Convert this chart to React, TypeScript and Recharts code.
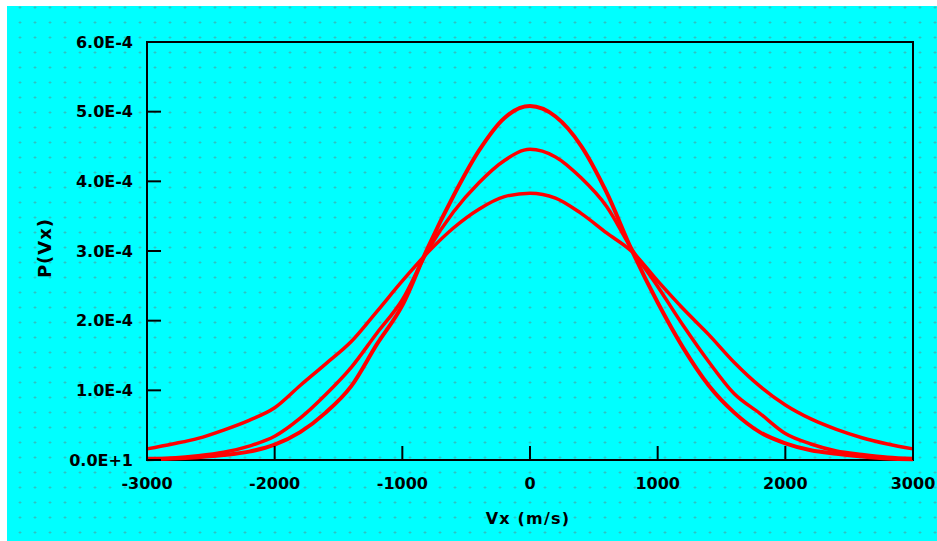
import React from 'react';
import { LineChart, Line, XAxis, YAxis, ReferenceArea, Label } from 'recharts';

// velocity bins (m/s)
const vx = [
  -3000, -2800, -2600, -2400, -2200, -2000, -1800, -1600, -1400, -1200, -1000,
  -800, -600, -400, -200, 0, 200, 400, 600, 800, 1000,
  1200, 1400, 1600, 1800, 2000, 2200, 2400, 2600, 2800, 3000,
];

// P(Vx) for the three runs
const pNarrow = [
  1e-6, 2e-6, 4e-6, 7e-6, 1.2e-5, 2.2e-5, 4.0e-5, 6.8e-5, 1.06e-4, 1.66e-4, 2.22e-4,
  3.05e-4, 3.79e-4, 4.44e-4, 4.91e-4, 5.08e-4, 4.93e-4, 4.51e-4, 3.84e-4, 3.0e-4, 2.26e-4,
  1.61e-4, 1.07e-4, 6.8e-5, 4.0e-5, 2.4e-5, 1.4e-5, 9e-6, 5e-6, 2e-6, 1e-6,
];
const pMid = [
  2e-6, 3e-6, 6e-6, 1.1e-5, 2.0e-5, 3.4e-5, 6.0e-5, 9.4e-5, 1.33e-4, 1.82e-4, 2.30e-4,
  3.01e-4, 3.56e-4, 3.98e-4, 4.30e-4, 4.46e-4, 4.35e-4, 4.05e-4, 3.64e-4, 3.02e-4, 2.49e-4,
  1.93e-4, 1.41e-4, 9.5e-5, 6.7e-5, 3.8e-5, 2.3e-5, 1.3e-5, 8e-6, 4e-6, 2e-6,
];
const pWide = [
  1.6e-5, 2.3e-5, 3.1e-5, 4.3e-5, 5.7e-5, 7.5e-5, 1.07e-4, 1.38e-4, 1.70e-4, 2.13e-4, 2.57e-4,
  2.98e-4, 3.33e-4, 3.60e-4, 3.78e-4, 3.83e-4, 3.76e-4, 3.54e-4, 3.26e-4, 2.99e-4, 2.57e-4,
  2.17e-4, 1.80e-4, 1.40e-4, 1.06e-4, 7.9e-5, 5.9e-5, 4.4e-5, 3.2e-5, 2.3e-5, 1.6e-5,
];

const xTicks = [-3000, -2000, -1000, 0, 1000, 2000, 3000];
const yTicks = [0, 1e-4, 2e-4, 3e-4, 4e-4, 5e-4, 6e-4];
const yTickLabels = ['0.0E+1', '1.0E-4', '2.0E-4', '3.0E-4', '4.0E-4', '5.0E-4', '6.0E-4'];

const data = vx.map((v, i) => ({ v, a: pNarrow[i], b: pMid[i], c: pWide[i] }));

const font = '"DejaVu Sans", sans-serif';

const YTick = (props: any) => {
  const { x, y, index } = props;
  return (
    <g>
      <line x1={x} y1={y} x2={x + 14} y2={y} stroke="#000" strokeWidth={2} />
      <text x={x - 14} y={y} textAnchor="end" dominantBaseline="central"
        fontFamily={font} fontWeight="bold" fontSize={16} fill="#000">
        {yTickLabels[index]}
      </text>
    </g>
  );
};

const XTick = (props: any) => {
  const { x, y, payload } = props;
  return (
    <g>
      <line x1={x} y1={y} x2={x} y2={y - 14} stroke="#000" strokeWidth={2} />
      <text x={x} y={y + 23} textAnchor="middle" dominantBaseline="central"
        fontFamily={font} fontWeight="bold" fontSize={16} fill="#000">
        {payload.value}
      </text>
    </g>
  );
};

export default function App() {
  return (
    <div
      style={{
        position: 'absolute',
        left: 7,
        top: 6,
        width: 930,
        height: 535,
        backgroundColor: '#00ffff',
        backgroundImage: 'radial-gradient(circle, rgb(55,185,185) 0.9px, transparent 1.3px)',
        backgroundSize: '15px 15px',
        backgroundPosition: '5.5px 9px',
      }}
    >
      <LineChart width={930} height={535} data={data} margin={{ top: 36, right: 24, bottom: 0, left: 0 }}>
        <XAxis
          dataKey="v"
          type="number"
          domain={[-3000, 3000]}
          ticks={xTicks}
          height={81}
          axisLine={false}
          tickLine={false}
          tickSize={0}
          tickMargin={0}
          tick={<XTick />}
          interval={0}
        >
          <Label
            content={({ viewBox }: any) => (
              <text x={viewBox.x + viewBox.width / 2 - 2} y={viewBox.y + 58} textAnchor="middle"
                dominantBaseline="central" fontFamily={font} fontWeight="bold" fontSize={16}
                letterSpacing={1.2} fill="#000">
                Vx (m/s)
              </text>
            )}
          />
        </XAxis>
        <YAxis
          type="number"
          domain={[0, 6e-4]}
          ticks={yTicks}
          width={140}
          axisLine={false}
          tickLine={false}
          tickSize={0}
          tickMargin={0}
          tick={<YTick />}
          interval={0}
        >
          <Label
            content={({ viewBox }: any) => {
              const cx = viewBox.x + 37;
              const cy = viewBox.y + viewBox.height / 2 - 3;
              return (
                <text x={cx} y={cy} transform={`rotate(-90 ${cx} ${cy})`} textAnchor="middle"
                  dominantBaseline="central" fontFamily={font} fontWeight="bold" fontSize={18}
                  letterSpacing={1} fill="#000">
                  P(Vx)
                </text>
              );
            }}
          />
        </YAxis>
        <ReferenceArea x1={-3000} x2={3000} y1={0} y2={6e-4} fill="none" fillOpacity={0}
          stroke="#000" strokeWidth={2} strokeOpacity={1} />
        <Line type="monotone" dataKey="c" stroke="#ff0000" strokeWidth={3.5} dot={false} isAnimationActive={false} />
        <Line type="monotone" dataKey="b" stroke="#ff0000" strokeWidth={3.5} dot={false} isAnimationActive={false} />
        <Line type="monotone" dataKey="a" stroke="#ff0000" strokeWidth={4} dot={false} isAnimationActive={false} />
      </LineChart>
    </div>
  );
}
